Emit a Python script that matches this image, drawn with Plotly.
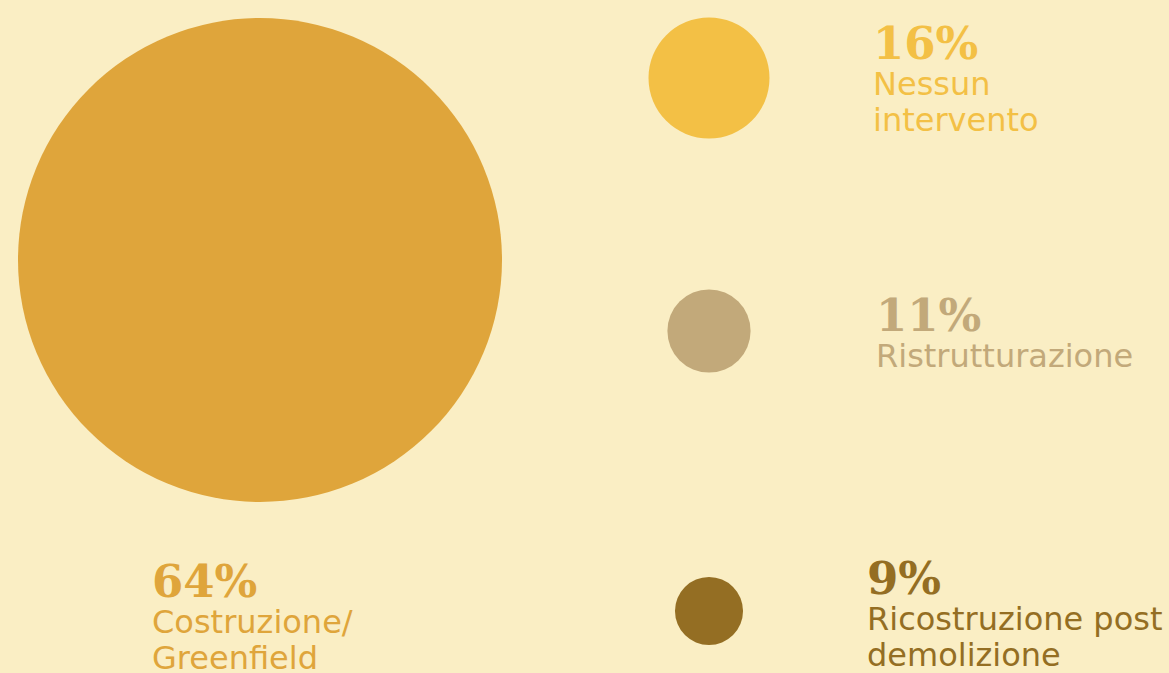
import plotly.graph_objects as go

# Share of interventions by type
label_lines = [["Costruzione/", "Greenfield"], ["Nessun", "intervento"], ["Ristrutturazione"], ["Ricostruzione post", "demolizione"]]
values = [64, 16, 11, 9]
pct_labels = ["64%", "16%", "11%", "9%"]
colors = ["#DFA53B", "#F3C045", "#C2A97A", "#946E23"]

W, H = 1169, 673
BG = "#FAEEC4"

# Layout of each bubble (pixel coords) and its text block (left edge, top of the % figure)
centers = [(260, 260), (709, 78), (709, 331), (709, 611)]
text_pos = [(150, 563), (871, 25), (874, 297), (865, 560)]

px_per_unit = 242 / 64  # radius in px per percentage point

PCT_SIZE = 45
LBL_SIZE = 32
BASE_SIZE = 27.5  # sets the line pitch (1.3 x base)

fig = go.Figure()
for v, c, (cx, cy) in zip(values, colors, centers):
    fig.add_trace(go.Scatter(
        x=[cx], y=[cy], mode="markers",
        marker=dict(size=2 * v * px_per_unit, color=c, line=dict(width=0)),
        hoverinfo="skip", showlegend=False,
    ))

for lines, pct, c, (tx, ty) in zip(label_lines, pct_labels, colors, text_pos):
    pct_html = (f"<span style='font-family:DejaVu Serif;font-size:{PCT_SIZE}px'>"
                f"<b>{pct}</b></span>")
    lbl_html = "<br>".join(
        f"<span style='font-size:{LBL_SIZE}px'>{line}</span>" for line in lines)
    fig.add_annotation(
        x=tx, y=ty - 10, xref="x", yref="y", text=pct_html + "<br>" + lbl_html,
        showarrow=False, xanchor="left", yanchor="top", align="left",
        font=dict(family="DejaVu Sans", size=BASE_SIZE, color=c),
    )

fig.update_layout(
    width=W, height=H, margin=dict(l=0, r=0, t=0, b=0),
    paper_bgcolor=BG, plot_bgcolor=BG,
    xaxis=dict(range=[0, W], visible=False, fixedrange=True),
    yaxis=dict(range=[H, 0], visible=False, fixedrange=True),
)

fig.write_html("out.html", config={"displayModeBar": False})
